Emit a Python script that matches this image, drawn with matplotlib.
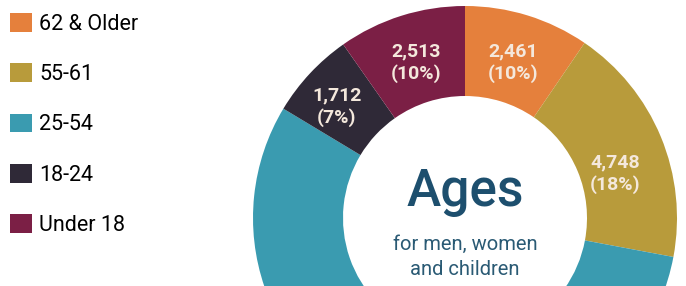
import matplotlib

matplotlib.use("Agg")
import matplotlib.pyplot as plt
import numpy as np

# data (25-54 is not labelled, so it is the remainder)
groups = ["62 & Older", "55-61", "25-54", "18-24", "Under 18"]
counts = [2461, 4748, 14366, 1712, 2513]
count_labels = ["2,461", "4,748", "", "1,712", "2,513"]
pct_labels = ["10%", "18%", "", "7%", "10%"]
colors = ["#e5803c", "#b89b3b", "#3a9bb0", "#2f2937", "#7b1f45"]

W, H = 686, 286
plt.rcParams["font.family"] = ["Roboto", "DejaVu Sans"]

fig = plt.figure(figsize=(W / 100, H / 100), dpi=100)
ax = fig.add_axes([0, 0, 1, 1])

cx, cy, R, r_in = 465, H - 218, 212, 122
wedges, _ = ax.pie(
    counts,
    colors=colors,
    startangle=90,
    counterclock=False,
    center=(cx, cy),
    radius=R,
    wedgeprops=dict(width=R - r_in, edgecolor="none"),
)

# labels sit near the middle of each ring segment; a few are nudged by hand
# (angle offset in degrees, radius) like in the original layout
nudge = {"4,748": (-6, 157), "1,712": (2, 170)}
for w, c, p in zip(wedges, count_labels, pct_labels):
    if not c:
        continue
    da, rr = nudge.get(c, (0, 163))
    ang = np.deg2rad((w.theta1 + w.theta2) / 2 + da)
    ax.text(cx + rr * np.cos(ang), cy + rr * np.sin(ang), f"{c}\n({p})",
            ha="center", va="center", color="#f4e8dc", fontsize=14,
            fontweight="bold", linespacing=1.25)

ax.text(cx, H - 192, "Ages", ha="center", va="center", color="#1d4f6e",
        fontsize=37, fontweight="medium")
ax.text(cx, H - 257, "for men, women\nand children", ha="center", va="center",
        color="#2a5a74", fontsize=14.5, linespacing=1.4)

ax.set_xlim(0, W)
ax.set_ylim(0, H)
ax.set_aspect("equal")
ax.axis("off")

ax.legend(wedges, groups, loc="upper left", bbox_to_anchor=(10 / W, 1 - 13 / H),
          frameon=False, fontsize=15.5, handlelength=1.0, handleheight=0.95,
          handletextpad=0.35, labelspacing=1.33, borderpad=0, borderaxespad=0)

fig.savefig("out.png", dpi=100)
